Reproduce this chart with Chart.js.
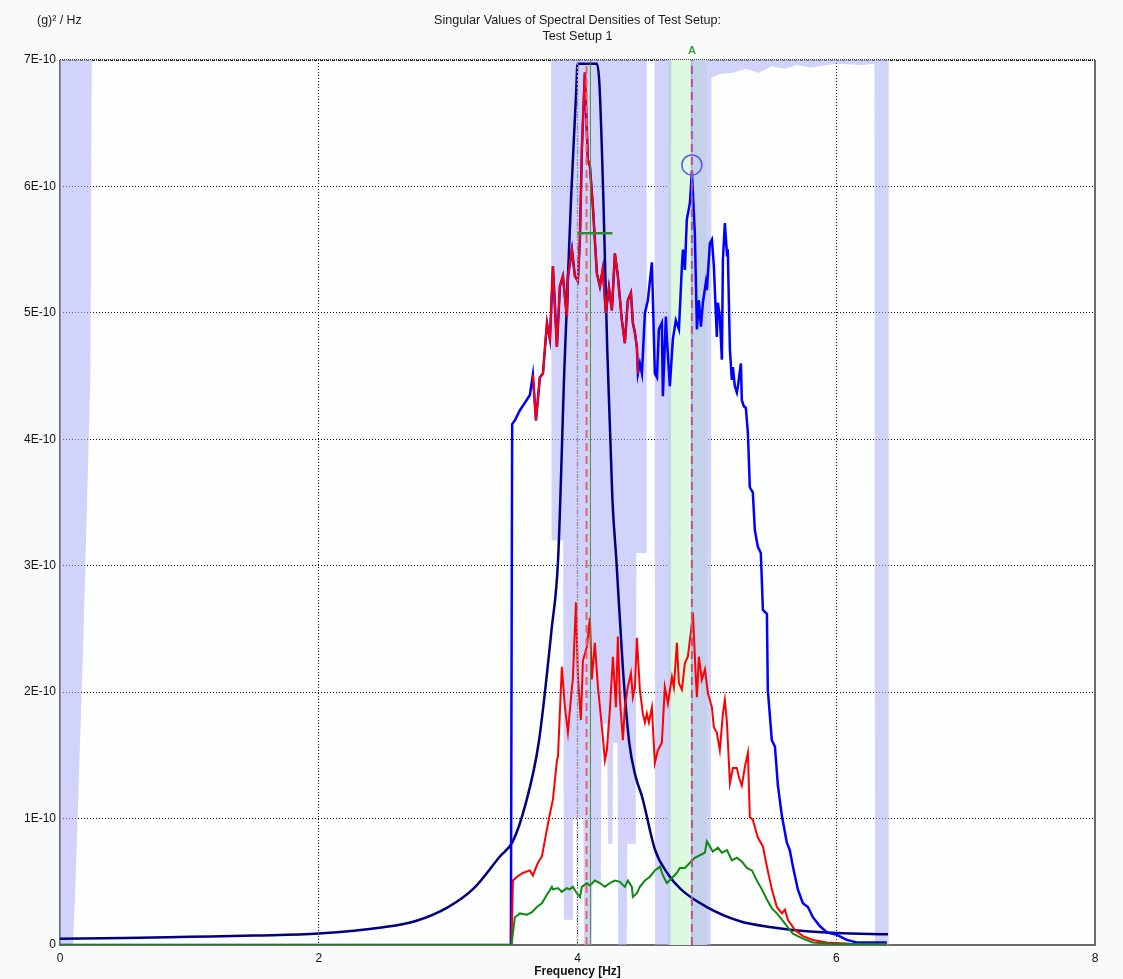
<!DOCTYPE html>
<html>
<head>
<meta charset="utf-8">
<script src="https://cdn.jsdelivr.net/npm/chart.js@4.4.1/dist/chart.umd.min.js"></script>
<style>
  html, body { margin: 0; padding: 0; background: #f9fbfb; }
  #wrap { width: 1123px; height: 979px; }
</style>
</head>
<body>
<div id="wrap"><canvas id="chartSvd" width="1123" height="979"></canvas></div>
<script>
// values are in units of 1E-10 (g)²/Hz, frequencies in Hz
const xTicks = [0, 2, 4, 6, 8];
const yTicks = [0, 1, 2, 3, 4, 5, 6, 7];

// 1st singular value (blue)
const sv1Hz = [0, 3.485, 3.495, 3.516, 3.555, 3.594, 3.632, 3.655, 3.679, 3.709, 3.733, 3.764, 3.787, 3.810, 3.841, 3.864, 3.887, 3.918, 3.926, 3.957, 3.980,
  4.003, 4.019, 4.034, 4.057, 4.080, 4.096, 4.119, 4.134, 4.150, 4.173, 4.196, 4.219, 4.243, 4.266, 4.289, 4.312, 4.343, 4.366, 4.389, 4.413, 4.428, 4.444, 4.459, 4.467,
  4.482, 4.498, 4.521, 4.544, 4.575, 4.598, 4.614, 4.629, 4.652, 4.660, 4.683, 4.691, 4.714, 4.737, 4.760, 4.784, 4.807, 4.815, 4.830, 4.845, 4.869, 4.884, 4.907,
  4.923, 4.938, 4.954, 4.969, 4.992, 5.000, 5.023, 5.039, 5.054, 5.077, 5.085, 5.100, 5.116, 5.124, 5.139, 5.155, 5.162, 5.178, 5.193, 5.201, 5.216, 5.232, 5.240,
  5.263, 5.270, 5.286, 5.301, 5.317, 5.332, 5.355, 5.371, 5.394, 5.417, 5.433, 5.464, 5.471, 5.502, 5.526, 5.549, 5.580, 5.618, 5.641, 5.665, 5.703, 5.742, 5.781,
  5.819, 5.873, 5.927, 6.005, 6.082, 6.159, 6.391];
const sv1 = [0, 0, 4.12, 4.15, 4.23, 4.29, 4.35, 4.51, 4.15, 4.49, 4.52, 4.92, 4.79, 5.37, 4.73, 5.21, 5.29, 4.97, 5.29, 5.50, 5.29,
  5.25, 5.60, 6.30, 6.90, 6.21, 6.16, 5.84, 5.58, 5.31, 5.21, 5.35, 5.00, 5.20, 5.02, 5.47, 5.29, 4.94, 4.76, 5.10, 5.16, 4.92, 4.84, 4.73, 4.52,
  4.60, 4.52, 5.00, 5.10, 5.40, 4.52, 4.49, 4.87, 4.92, 4.34, 4.97, 4.79, 4.42, 4.79, 4.94, 4.87, 5.37, 5.50, 5.34, 5.74, 5.87, 6.12, 5.63,
  4.87, 5.10, 4.89, 5.08, 5.24, 5.18, 5.55, 5.58, 5.37, 4.81, 5.08, 4.97, 4.63, 5.42, 5.71, 5.47, 5.48, 4.71, 4.47, 4.57, 4.42, 4.37, 4.42,
  4.60, 4.31, 4.26, 4.25, 4.05, 3.62, 3.58, 3.28, 3.15, 3.10, 2.65, 2.62, 2.02, 1.62, 1.57, 1.26, 1.02, 0.81, 0.75, 0.62, 0.44, 0.33, 0.30,
  0.22, 0.15, 0.10, 0.08, 0.04, 0.02, 0.02];
// highlighted part of the 1st singular value (red over blue)
const pickFrom = 3.65;
const pickTo = 4.47;

// 2nd singular value (red)
const sv2Hz = [0, 3.49, 3.501, 3.532, 3.578, 3.632, 3.655, 3.694, 3.725, 3.748, 3.787, 3.810, 3.841, 3.849, 3.879, 3.903, 3.926, 3.957, 3.964, 3.988,
  4.003, 4.026, 4.042, 4.073, 4.096, 4.111, 4.134, 4.158, 4.189, 4.212, 4.227, 4.250, 4.274, 4.297, 4.312, 4.328, 4.351, 4.366, 4.389, 4.413, 4.428, 4.444, 4.459,
  4.482, 4.505, 4.521, 4.536, 4.552, 4.575, 4.583, 4.598, 4.621, 4.652, 4.675, 4.699, 4.730, 4.745, 4.768, 4.784, 4.807, 4.830, 4.853, 4.876, 4.892, 4.915, 4.923,
  4.938, 4.961, 4.985, 5.008, 5.039, 5.054, 5.077, 5.100, 5.124, 5.139, 5.155, 5.178, 5.201, 5.232, 5.247, 5.270, 5.294, 5.317, 5.332, 5.355, 5.394, 5.433, 5.464,
  5.502, 5.541, 5.580, 5.603, 5.626, 5.680, 5.742, 5.819, 5.927, 6.105, 6.391];
const sv2 = [0, 0, 0.51, 0.54, 0.57, 0.59, 0.55, 0.65, 0.70, 0.83, 1.04, 1.15, 1.46, 1.49, 2.20, 1.88, 1.68, 2.04, 2.10, 2.71,
  2.12, 1.78, 2.25, 2.36, 2.59, 2.10, 2.39, 2.04, 1.72, 1.46, 1.54, 1.86, 2.28, 1.88, 2.44, 1.94, 1.62, 1.88, 2.04, 2.15, 1.96, 2.04, 2.43,
  2.02, 1.83, 1.76, 1.83, 1.76, 1.88, 1.72, 1.44, 1.54, 1.60, 2.04, 1.91, 2.12, 2.04, 2.39, 2.07, 2.02, 2.23, 2.28, 2.47, 2.63, 2.10, 1.96,
  2.28, 2.10, 2.18, 1.99, 1.88, 1.72, 1.68, 1.54, 1.83, 1.94, 1.76, 1.28, 1.40, 1.40, 1.33, 1.26, 1.41, 1.52, 1.01, 0.99, 0.85, 0.78, 0.62,
  0.44, 0.30, 0.25, 0.28, 0.20, 0.12, 0.07, 0.04, 0.02, 0.01, 0.005];

// 3rd singular value (green)
const sv3Hz = [0, 3.49, 3.516, 3.555, 3.609, 3.648, 3.686, 3.725, 3.764, 3.802, 3.810, 3.849, 3.879, 3.918, 3.941, 3.964, 3.995, 4.019, 4.034, 4.073,
  4.096, 4.134, 4.173, 4.212, 4.250, 4.289, 4.328, 4.366, 4.389, 4.420, 4.428, 4.459, 4.482, 4.521, 4.560, 4.598, 4.637, 4.660, 4.691, 4.730, 4.768, 4.791,
  4.830, 4.869, 4.907, 4.946, 4.985, 5.000, 5.023, 5.046, 5.085, 5.116, 5.155, 5.193, 5.232, 5.270, 5.309, 5.348, 5.386, 5.425, 5.464, 5.502, 5.541, 5.580,
  5.618, 5.665, 5.742, 5.819, 5.951, 6.391];
const sv3 = [0, 0, 0.22, 0.25, 0.24, 0.26, 0.30, 0.33, 0.40, 0.46, 0.44, 0.45, 0.42, 0.45, 0.44, 0.46, 0.41, 0.38, 0.46, 0.49,
  0.47, 0.51, 0.49, 0.46, 0.49, 0.51, 0.50, 0.46, 0.51, 0.46, 0.38, 0.41, 0.46, 0.51, 0.54, 0.59, 0.62, 0.55, 0.49, 0.53, 0.57, 0.61,
  0.61, 0.65, 0.69, 0.71, 0.73, 0.82, 0.78, 0.74, 0.77, 0.73, 0.75, 0.67, 0.69, 0.66, 0.61, 0.59, 0.51, 0.44, 0.36, 0.29, 0.25, 0.20,
  0.15, 0.09, 0.05, 0.02, 0.01, 0.005];

// fitted SDOF bell (navy)
const fitHz = [0, 0.5, 1.0, 1.5, 2.0, 2.5, 2.75, 3.0, 3.2, 3.4, 3.5, 3.6, 3.7, 3.8, 3.85, 3.9, 3.95, 3.99, 4.0, 4.15, 4.17, 4.20, 4.23, 4.27,
  4.30, 4.35, 4.40, 4.45, 4.50, 4.60, 4.70, 4.80, 5.00, 5.25, 5.50, 5.75, 6.00, 6.40];
const fit = [0.05, 0.055, 0.065, 0.075, 0.09, 0.14, 0.19, 0.30, 0.45, 0.70, 0.82, 1.12, 1.60, 2.50, 3.05, 4.60, 5.90, 6.75, 6.97, 6.97, 6.80, 5.90, 4.71, 3.52,
  3.05, 2.20, 1.60, 1.33, 1.17, 0.75, 0.56, 0.44, 0.30, 0.19, 0.14, 0.11, 0.095, 0.085];

// lower edge of the shaded indicator (filled up to the top)
const shadeHz = [0, 0.10, 0.12, 0.18, 0.235, 0.245, 0.25, 3.795, 3.80, 3.89, 3.895, 3.96, 3.965, 4.045, 4.05, 4.11, 4.115, 4.18, 4.185, 4.23, 4.235, 4.27, 4.275,
  4.31, 4.315, 4.38, 4.385, 4.45, 4.455, 4.53, 4.535, 4.595, 4.60, 4.72, 4.725, 4.875, 4.88, 5.03, 5.035, 5.1, 5.2, 5.3, 5.4, 5.5, 5.6, 5.7, 5.8, 6.0, 6.2,
  6.295, 6.30, 6.40, 6.405, 8];
const shade = [0, 0, 0.5, 2.4, 4.5, 6.95, 7, 7, 3.2, 3.2, 0.2, 0.2, 1.0, 1.0, 0, 0, 0.5, 0.5, 1.75, 1.75, 0.8, 0.8, 1.6,
  1.6, 0, 0, 0.8, 0.8, 3.1, 3.1, 7, 7, 0, 0, 7, 7, 0, 0, 6.86, 6.89, 6.9, 6.93, 6.9, 6.95, 6.93, 6.96, 6.94, 6.97, 6.96,
  6.97, 0, 0, 7, 7];
// selected band (light green)
const bandHz = [4.70, 5.0];

// markers
const peakMarkHz = 4.07;
const pickLineHz = 4.10;
const gridMarkHz = 4.0;
const levelHz = [4.0, 4.27];
const levelVal = 5.63;
const modeHz = 4.884;
const modeVal = 6.17;
const modeLabel = 'A';

const titleLines = ['Singular Values of Spectral Densities of Test Setup:', 'Test Setup 1'];
const yUnit = '(g)\u00b2 / Hz';
const xTitle = 'Frequency [Hz]';

const FONT = '"Liberation Sans", Arial, sans-serif';

function toPoints(hz, vals) {
    return hz.map((f, i) => ({ x: f, y: vals[i] }));
}

function vline(f) {
    return [{ x: f, y: 0 }, { x: f, y: 7 }];
}

function lineSet(data, color, width, order, extra) {
    return Object.assign({
        data: data,
        borderColor: color,
        borderWidth: width,
        pointRadius: 0,
        fill: false,
        tension: 0,
        order: order
    }, extra || {});
}

const sv1Points = toPoints(sv1Hz, sv1);
const pickPoints = sv1Points.filter(p => p.x >= pickFrom && p.x <= pickTo);

const decor = {
    id: 'decor',
    beforeDraw(chart) {
        const { ctx, chartArea: a } = chart;
        ctx.save();
        ctx.fillStyle = '#f9fbfb';
        ctx.fillRect(0, 0, chart.width, chart.height);
        ctx.fillStyle = '#fdfefe';
        ctx.fillRect(a.left, a.top, a.right - a.left, a.bottom - a.top);
        ctx.restore();
    },
    beforeDatasetsDraw(chart) {
        const { ctx, chartArea: a } = chart;
        ctx.save();
        ctx.strokeStyle = '#6b6b6b';
        ctx.lineWidth = 2;
        ctx.beginPath();
        ctx.moveTo(a.left, a.top);
        ctx.lineTo(a.left, a.bottom);
        ctx.lineTo(a.right, a.bottom);
        ctx.lineTo(a.right, a.top);
        ctx.stroke();
        ctx.setLineDash([1, 1]);
        ctx.strokeStyle = '#333';
        ctx.beginPath();
        ctx.moveTo(a.left, a.top);
        ctx.lineTo(a.right, a.top);
        ctx.stroke();
        ctx.restore();
    },
    afterDraw(chart) {
        const { ctx, chartArea: a } = chart;
        const cx = (a.left + a.right) / 2;
        ctx.save();
        ctx.fillStyle = '#1a1a1a';
        ctx.font = '12.6px ' + FONT;
        ctx.textAlign = 'center';
        ctx.textBaseline = 'middle';
        ctx.fillText(titleLines[0], cx, 21);
        ctx.fillText(titleLines[1], cx, 37);
        ctx.textAlign = 'left';
        ctx.font = '12.4px ' + FONT;
        ctx.fillText(yUnit, 37, 21);
        ctx.fillStyle = '#3a9a3a';
        ctx.font = 'bold 11px ' + FONT;
        ctx.textAlign = 'center';
        ctx.fillText(modeLabel, chart.scales.x.getPixelForValue(modeHz), 51);
        ctx.restore();
    }
};

const datasets = [
    lineSet([{ x: modeHz, y: modeVal }], '#5b5be8', 1.5, 0, {
        showLine: false, pointRadius: 10, pointHoverRadius: 10,
        pointBackgroundColor: 'rgba(0,0,0,0)', pointBorderColor: '#5b5be8', pointBorderWidth: 1.5
    }),
    lineSet(toPoints(levelHz, [levelVal, levelVal]), '#2e8b2e', 2.5, 1),
    lineSet(vline(modeHz), '#c0508a', 2, 1, { borderDash: [8, 5] }),
    lineSet(vline(modeHz), '#8ab0f5', 1, 2),
    lineSet(vline(peakMarkHz), '#e86070', 2, 2, { borderDash: [8, 5] }),
    lineSet(vline(pickLineHz), '#3a9a3a', 1, 2),
    lineSet(vline(gridMarkHz), '#9a9aaa', 1.5, 3, { borderDash: [2, 2] }),
    lineSet(toPoints(sv3Hz, sv3), '#118811', 2, 3.5),
    lineSet(toPoints(sv2Hz, sv2), '#ff0000', 2, 3.6),
    lineSet(pickPoints, '#ff0000', 2, 3.7),
    lineSet(sv1Points, '#0000ff', 2.5, 5),
    lineSet(toPoints(fitHz, fit), '#000080', 2.5, 6, { cubicInterpolationMode: 'monotone' }),
    lineSet(toPoints(shadeHz, shade), 'rgba(0,0,0,0)', 0, 20, { fill: 'end', backgroundColor: 'rgba(175,175,245,0.55)' }),
    lineSet(toPoints(bandHz, [0, 0]), 'rgba(0,0,0,0)', 0, 21, { fill: 'end', backgroundColor: 'rgba(222,250,222,1)' })
];

new Chart(document.getElementById('chartSvd'), {
    type: 'line',
    data: { datasets: datasets },
    options: {
        responsive: false,
        animation: false,
        devicePixelRatio: 1,
        layout: { padding: { top: 60, right: 28, left: 0, bottom: 0 } },
        plugins: { legend: { display: false }, tooltip: { enabled: false } },
        scales: {
            x: {
                type: 'linear', min: 0, max: 8,
                afterFit: s => { s.height = 34; },
                afterBuildTicks: s => { s.ticks = xTicks.map(v => ({ value: v })); },
                grid: { color: '#000', lineWidth: 1, drawTicks: false },
                border: { display: false, dash: [1, 2] },
                ticks: { padding: 6, color: '#111', font: { size: 12, family: FONT }, maxRotation: 0 },
                title: { display: true, text: xTitle, color: '#111', padding: 0, font: { size: 12, weight: 'bold', family: FONT } }
            },
            y: {
                type: 'linear', min: 0, max: 7,
                afterFit: s => { s.width = 60; },
                afterBuildTicks: s => { s.ticks = yTicks.map(v => ({ value: v })); },
                grid: { color: '#000', lineWidth: 1, drawTicks: false },
                border: { display: false, dash: [1, 2] },
                ticks: {
                    padding: 4, color: '#111', font: { size: 12, family: FONT },
                    callback: v => v === 0 ? '0' : v + 'E-10'
                }
            }
        }
    },
    plugins: [decor]
});
</script>
</body>
</html>
